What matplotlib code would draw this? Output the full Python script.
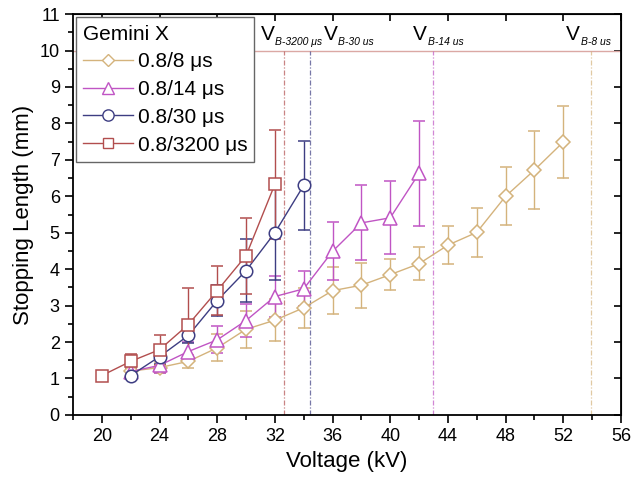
import matplotlib.pyplot as plt
from matplotlib.lines import Line2D
from matplotlib.ticker import MultipleLocator

plt.rcParams['font.family'] = ['Liberation Sans', 'DejaVu Sans']

# Data
v8 = [22, 24, 26, 28, 30, 32, 34, 36, 38, 40, 42, 44, 46, 48, 50, 52]
s8 = [1.2, 1.3, 1.47, 1.84, 2.35, 2.6, 2.94, 3.41, 3.56, 3.85, 4.15, 4.66, 5.01, 6.0, 6.72, 7.49]
e8 = [0.1, 0.15, 0.18, 0.37, 0.5, 0.58, 0.55, 0.65, 0.62, 0.43, 0.45, 0.53, 0.68, 0.8, 1.07, 0.98]

v14 = [22, 24, 26, 28, 30, 32, 34, 36, 38, 40, 42]
s14 = [1.19, 1.36, 1.74, 2.06, 2.59, 3.25, 3.46, 4.49, 5.27, 5.41, 6.63]
e14 = [0.1, 0.2, 0.25, 0.37, 0.45, 0.55, 0.48, 0.8, 1.03, 1.0, 1.45]

v30 = [22, 24, 26, 28, 30, 32, 34]
s30 = [1.08, 1.6, 2.18, 3.14, 3.96, 5.0, 6.3]
e30 = [0.1, 0.2, 0.2, 0.43, 0.87, 1.3, 1.22]

v3200 = [20, 22, 24, 26, 28, 30, 32]
s3200 = [1.08, 1.47, 1.79, 2.48, 3.41, 4.37, 6.33]
e3200 = [0.1, 0.2, 0.41, 1.0, 0.67, 1.04, 1.5]

breakdown_v = [32.6, 34.45, 43.0, 53.9]
breakdown_labels = ['B-3200 μs', 'B-30 us', 'B-14 us', 'B-8 us']
label_x = [31.0, 35.4, 41.6, 52.2]

c8 = '#d4b37c'
c14 = '#c055c4'
c30 = '#3d3d82'
c3200 = '#b24e4e'

fig = plt.figure(figsize=(6.32, 4.87), dpi=100)
ax = fig.add_axes([0.1155, 0.148, 0.867, 0.823])

series = [
    (v8, s8, e8, c8, 'D', 7, '0.8/8 μs'),
    (v14, s14, e14, c14, '^', 10, '0.8/14 μs'),
    (v30, s30, e30, c30, 'o', 9, '0.8/30 μs'),
    (v3200, s3200, e3200, c3200, 's', 8.5, '0.8/3200 μs'),
]
handles = []
for x, y, e, c, m, ms, lab in series:
    ax.errorbar(x, y, yerr=e, color=c, marker=m, ms=ms, mfc='white', mec=c,
                mew=1.1, lw=1.0, elinewidth=1.0, capsize=4, capthick=1.0)
    handles.append(Line2D([], [], color=c, marker=m, ms=ms * 0.9, mfc='white',
                          mec=c, mew=1.0, lw=1.0, label=lab))

ax.axhline(10, color='#dba8a4', lw=1.0)
for xv, c in zip(breakdown_v, [c3200, c30, c14, c8]):
    ax.vlines(xv, 0, 10, color=c, lw=0.9, ls=(0, (4, 1.5, 1, 1.5)), alpha=0.7)

for xt, lab in zip(label_x, breakdown_labels):
    ax.text(xt, 10.3, 'V', fontsize=15)
    ax.annotate(lab, (xt, 10.3), xytext=(10.5, -4), textcoords='offset points',
                fontsize=7.5, style='italic')

ax.set_xlim(18, 56)
ax.set_ylim(0, 11)
ax.xaxis.set_major_locator(MultipleLocator(4))
ax.xaxis.set_minor_locator(MultipleLocator(2))
ax.yaxis.set_major_locator(MultipleLocator(1))
ax.yaxis.set_minor_locator(MultipleLocator(0.5))
ax.tick_params(which='both', direction='out', labelsize=13, width=1.2)
ax.tick_params(which='major', length=6)
ax.tick_params(which='minor', length=3.5)
for s in ax.spines.values():
    s.set_linewidth(1.3)

top = ax.secondary_xaxis('top')
top.xaxis.set_major_locator(MultipleLocator(4))
top.tick_params(direction='in', length=5, width=1.2, labeltop=False)
right = ax.secondary_yaxis('right')
right.yaxis.set_major_locator(MultipleLocator(1))
right.tick_params(direction='in', length=5, width=1.2, labelright=False)

ax.set_xlabel('Voltage (kV)', fontsize=16)
ax.set_ylabel('Stopping Length (mm)', fontsize=16)

leg = ax.legend(handles=handles, title='Gemini X', loc='upper left', fontsize=15,
                title_fontsize=15, frameon=True, fancybox=False, edgecolor='#666666',
                framealpha=1, borderaxespad=0.15, handlelength=2.4, handletextpad=0.2,
                labelspacing=0.42, borderpad=0.35)
leg._legend_box.align = 'left'
leg.get_frame().set_linewidth(1.0)

fig.savefig('out.png', dpi=100)
